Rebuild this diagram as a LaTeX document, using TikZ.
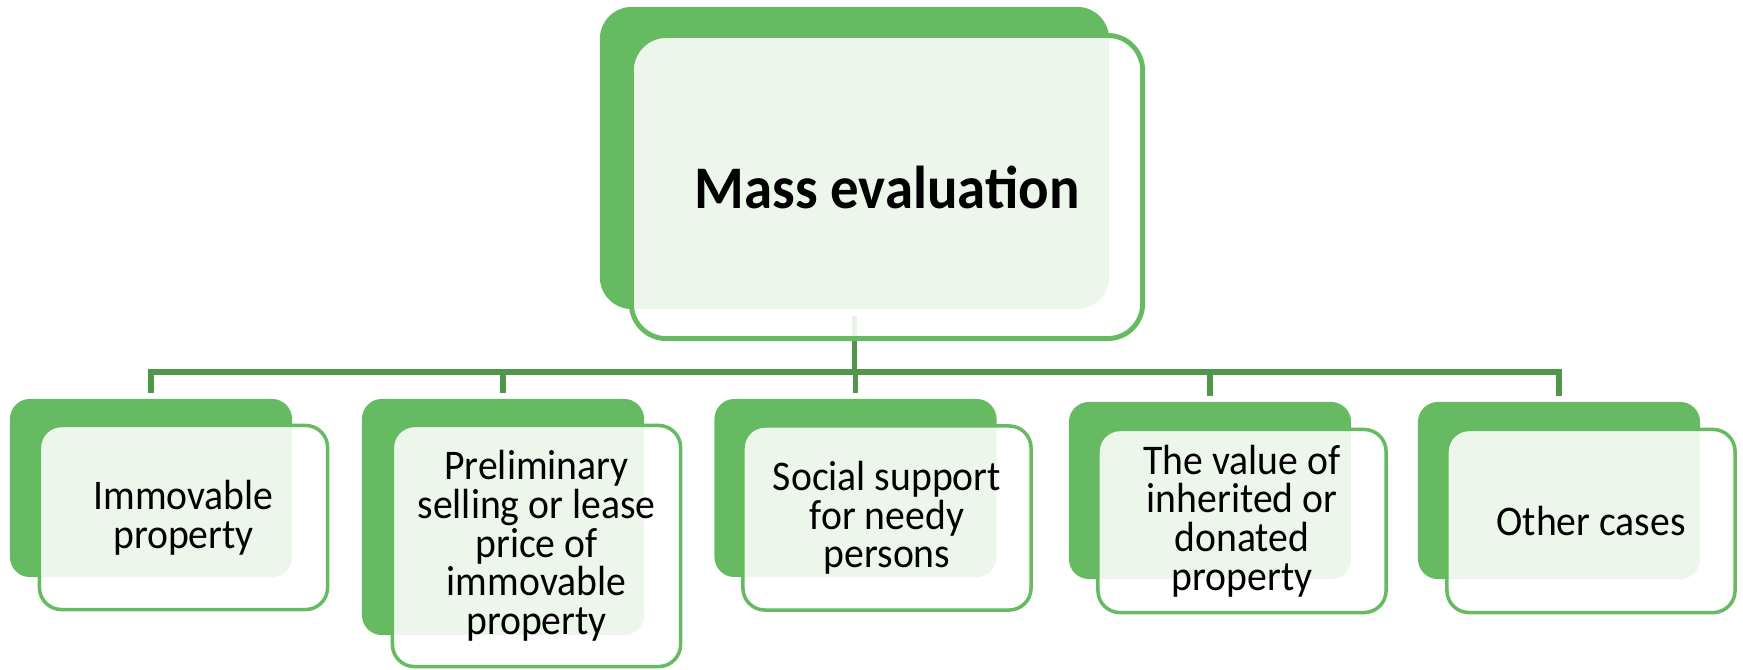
\documentclass[tikz,border=0pt]{standalone}
\usepackage{fontspec}
\usepackage{tikz}
\usetikzlibrary{calc}
\newfontfamily\boxfont[FakeStretch=0.94]{Carlito}
\definecolor{boxgreen}{RGB}{102,187,98}
\definecolor{linkgreen}{RGB}{80,150,75}

\begin{document}
\begin{tikzpicture}[x=0.01cm, y=-0.01cm,
	backbox/.style={fill=boxgreen, rounded corners=0.2cm, inner sep=0pt, minimum width=2.82cm, minimum height=1.78cm},
	frontbox/.style={draw=boxgreen, line width=1pt, fill=white, fill opacity=0.88, text opacity=1,
		rounded corners=0.22cm, inner sep=0pt, minimum width=2.88cm, minimum height=1.84cm,
		align=center, font=\boxfont\fontsize{12}{11}\selectfont},
	link/.style={draw=linkgreen, line width=1.55pt, shorten <=0.06cm, shorten >=0.05cm}]
			%%%%% START %%%%%
			\useasboundingbox (0, 0) rectangle (1743, 670);
			
			% back shapes
			\node[backbox, minimum width=5.09cm, minimum height=3.02cm, rounded corners=0.32cm] (massb) at (854.5, 158) {};
			\node[backbox] (b1) at (151, 488) {};
			\node[backbox, minimum height=2.36cm] (b2) at (503, 517) {};
			\node[backbox] (b3) at (855.5, 488) {};
			\node[backbox, minimum height=1.77cm] (b4) at (1210, 490.5) {};
			\node[backbox, minimum height=1.77cm] (b5) at (1559, 490.5) {};
			
			% connectors
			\foreach \b in {b1, b2, b3, b4, b5}
				\draw[link] (massb.south) -- ++(0, 62) -| (\b.north);
			
			% front shapes with the texts
			\node[frontbox, line width=1.4pt, minimum width=5.11cm, minimum height=3.03cm, rounded corners=0.35cm,
				font=\boxfont\bfseries\fontsize{17.2}{20}\selectfont] (mass) at (887, 187) {Mass evaluation};
			
			\node[frontbox] (f1) at (183.5, 517.5) {Immovable\\property};
			\node[frontbox, minimum height=2.41cm] (f2) at (536.5, 546) {Preliminary\\selling or lease\\price of\\immovable\\property};
			\node[frontbox] (f3) at (887, 518) {Social support\\for needy\\persons};
			\node[frontbox, minimum height=1.83cm] (f4) at (1242, 521) {The value of\\inherited or\\donated\\property};
			\node[frontbox, minimum height=1.83cm] (f5) at (1591, 521) {Other cases};
			
			%%%%% END %%%%%
\end{tikzpicture}
\end{document}
